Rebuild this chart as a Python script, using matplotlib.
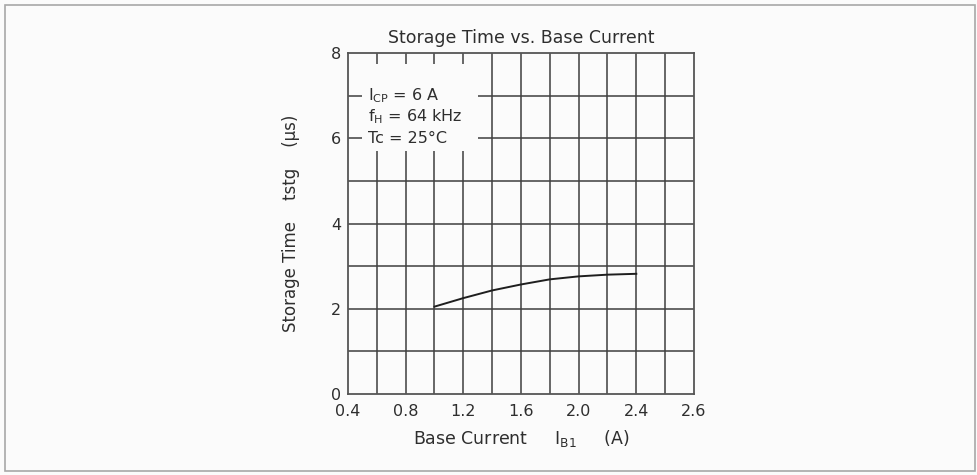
import matplotlib
matplotlib.use("Agg")
import matplotlib.pyplot as plt
from matplotlib.patches import Rectangle

# Data
base_current = [1.0, 1.2, 1.4, 1.6, 1.8, 2.0, 2.2, 2.4]
storage_time = [2.05, 2.25, 2.43, 2.57, 2.69, 2.76, 2.80, 2.82]
xtick_vals = [0.4, 0.8, 1.2, 1.6, 2.0, 2.4, 2.8]
xtick_labels = ["0.4", "0.8", "1.2", "1.6", "2.0", "2.4", "2.6"]
ytick_vals = [0, 2, 4, 6, 8]
xgrid_vals = [0.6, 0.8, 1.0, 1.2, 1.4, 1.6, 1.8, 2.0, 2.2, 2.4, 2.6]
ygrid_vals = [1, 2, 3, 4, 5, 6, 7]
conditions = [r"I$_{\rm CP}$ = 6 A", r"f$_{\rm H}$ = 64 kHz", r"Tc = 25°C"]
condition_y = [7.0, 6.5, 6.0]

plt.rcParams['font.family'] = ['DejaVu Sans']
plt.rcParams['mathtext.fontset'] = 'custom'
plt.rcParams['mathtext.rm'] = 'DejaVu Sans'

txt = '#2e2e2e'
gridc = '#404040'

fig = plt.figure(figsize=(9.77, 4.75), dpi=100, facecolor='#fbfbfb')
fig.patches.append(Rectangle((0.005, 0.008), 0.993, 0.982, transform=fig.transFigure,
                             fill=False, edgecolor='#a8a8a8', linewidth=1.2))

ax = fig.add_axes([0.3562, 0.1705, 0.3541, 0.7179])
ax.set_facecolor('#fbfbfb')
ax.set_xlim(0.4, 2.8)
ax.set_ylim(0, 8)

for xv in xgrid_vals:
    ax.axvline(xv, color=gridc, lw=1.3, alpha=0.85, zorder=1)
for yv in ygrid_vals:
    ax.axhline(yv, color=gridc, lw=1.3, alpha=0.85, zorder=1)

# white area behind condition text
ax.add_patch(Rectangle((0.5, 5.7), 0.8, 2.05, facecolor='#fbfbfb', edgecolor='none', zorder=2))

ax.plot(base_current, storage_time, color='#1e1e1e', lw=1.4, zorder=3)

for s, yv in zip(conditions, condition_y):
    ax.text(0.54, yv, s, fontsize=11.5, color=txt, va='center', ha='left', zorder=4)

for sp in ax.spines.values():
    sp.set_color('#555555')
    sp.set_linewidth(1.3)

ax.set_xticks(xtick_vals)
ax.set_xticklabels(xtick_labels)
ax.set_yticks(ytick_vals)
ax.tick_params(length=0, labelsize=11.5, colors=txt, pad=5)
ax.tick_params(axis='x', pad=7)

ax.set_title("Storage Time vs. Base Current", fontsize=12.5, color=txt, pad=7)
ax.set_xlabel(r"Base Current     I$_{\rm B1}$     (A)", fontsize=12.5, color=txt, labelpad=7)
ax.set_ylabel(r"Storage Time    tstg    (µs)", fontsize=12, color=txt, labelpad=22)

fig.savefig("out.png", dpi=100, facecolor=fig.get_facecolor())
